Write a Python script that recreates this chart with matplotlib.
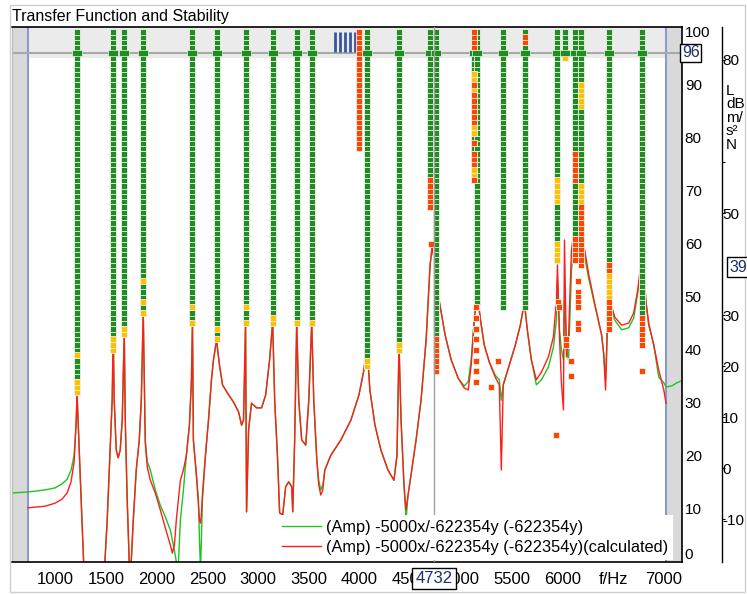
import numpy as np
import matplotlib.pyplot as plt
from matplotlib.lines import Line2D
from matplotlib.patches import Rectangle
import matplotlib.transforms as mtrans

plt.rcParams['font.family'] = ['Liberation Sans', 'DejaVu Sans']
plt.rcParams['font.size'] = 11

nan = np.nan

# transfer function: measured (green) and synthesised (red), dB
freq_hz = [575, 733, 901, 1000, 1069, 1119, 1158, 1188, 1207, 1217, 1227, 1247, 1267, 1287, 1395,
           1484, 1514, 1543, 1563, 1573, 1583, 1603, 1622, 1642, 1662, 1682, 1692, 1711, 1731, 1741,
           1751, 1771, 1800, 1830, 1850, 1869, 1889, 1909, 1939, 1988, 2037, 2087, 2136, 2156, 2176,
           2195, 2215, 2235, 2265, 2294, 2324, 2344, 2354, 2363, 2393, 2413, 2423, 2433, 2442, 2452,
           2482, 2512, 2541, 2561, 2591, 2620, 2650, 2699, 2759, 2808, 2838, 2857, 2877, 2887, 2907,
           2936, 2986, 3035, 3075, 3114, 3144, 3164, 3193, 3213, 3243, 3272, 3302, 3332, 3342, 3361,
           3381, 3401, 3430, 3470, 3500, 3529, 3549, 3579, 3598, 3618, 3638, 3658, 3717, 3816, 3915,
           3994, 4043, 4073, 4102, 4152, 4211, 4280, 4339, 4369, 4389, 4409, 4438, 4458, 4478, 4507,
           4557, 4606, 4656, 4695, 4715, 4745, 4784, 4843, 4903, 4972, 5031, 5071, 5100, 5130, 5159,
           5189, 5229, 5278, 5337, 5377, 5397, 5416, 5476, 5535, 5584, 5624, 5653, 5693, 5742, 5792,
           5861, 5910, 5940, 5950, 5970, 5989, 6009, 6019, 6029, 6039, 6059, 6088, 6118, 6157, 6177,
           6207, 6256, 6315, 6385, 6405, 6424, 6454, 6474, 6514, 6583, 6652, 6701, 6741, 6780, 6800,
           6820, 6849, 6899, 6948, 6998, 7020, 7077, 7126, 7195]
meas_db = [-4.9, -4.7, -4.3, -3.9, -3.1, -2.2, -0.4, 2.5, 8.4, 14.3, 9.4, -1.0, -11.2, -21, -24,
           -21, -10.2, 3.5, 13.3, 26.1, 13.3, 3.5, 2.0, 3.5, 9.4, 26.5, 9.4, -6.3, -18.4, -19.0,
           -18.0, -10.2, -0.4, 5.5, 13.3, 30.6, 5.5, 1.2, -0.4, -4.3, -7.3, -9.6, -12.2, -14.1, -16.1,
           -18.4, -19.0, -10.2, -4.3, 2.5, 8.4, 17.3, 28.6, 5.5, -1.4, -6.3, -14.1, -20.0, -14.1, -6.3,
           2.5, 9.4, 17.3, 21.2, 25.1, 20.2, 16.3, 14.7, 12.9, 11.0, 8.4, 9.4, 28.4, -8.6, 7.5,
           12.7, 11.8, 11.8, 14.3, 21.2, 28.6, 13.3, 1.6, -8.8, -9.2, -3.7, -2.7, -3.7, -8.6, 5.5,
           28.6, 13.3, 5.5, 4.5, 13.3, 28.6, 13.3, 1.6, -2.4, -4.3, -3.3, -0.4, 2.5, 5.5, 9.4,
           14.3, 19.2, 24.1, 15.3, 8.4, 3.5, -0.4, -2.4, 2.5, 24.1, 9.4, -3.3, -10.2, -5.3, -1.4,
           5.5, 13.3, 25.1, 39.8, 43.3, 39.8, 32.9, 26.1, 21.2, 17.6, 16.1, 16.9, 21.2, 29.0, 34.5,
           29.4, 24.1, 20.8, 18.2, 17.3, 13.3, 16.3, 20.2, 24.1, 28.0, 32.5, 27.1, 21.2, 16.3, 17.3,
           19.8, 23.7, 29.0, 36.9, 27.1, 23.1, 21.2, 32.9, 29.0, 23.1, 21.2, 38.8, 44.7, 47.1, 47.1,
           42.7, 37.3, 32.2, 26.1, 22.5, 17.3, 35.3, 32.0, 29.0, 27.1, 27.5, 29.4, 34.3, 40.8, 39.8,
           32.9, 28.0, 24.1, 17.8, 16.7, 15.9, 16.1, 16.7, 17.3]
calc_db = [nan, -7.8, -7.5, -6.9, -6.1, -4.9, -2.7, 1.2, 8.4, 14.7, 9.4, -1.0, -11.2, -21, -24,
           -21, -10.2, 3.5, 13.3, 26.1, 13.3, 3.5, 2.0, 3.5, 9.4, 26.5, 9.4, -6.3, -18.4, -21,
           -18.4, -10.2, -0.4, 5.5, 13.3, 30.6, 4.9, 0.2, -2.4, -4.9, -8.2, -11.8, -15.1, -16.7, -15.1,
           -10.2, -6.3, -2.4, -0.4, 2.5, 8.4, 17.3, 28.6, 5.5, -1.4, -7.3, -10.2, -10.8, -9.2, -5.3,
           2.5, 9.4, 17.3, 21.2, 25.1, 20.2, 16.3, 14.7, 12.9, 11.0, 8.4, 9.4, 28.4, -8.6, 7.5,
           12.7, 11.8, 11.8, 14.3, 21.2, 28.6, 13.3, 1.6, -8.8, -9.2, -3.7, -2.7, -3.7, -8.6, 5.5,
           28.6, 13.3, 5.5, 4.5, 13.3, 28.6, 13.3, 1.6, -3.3, -5.3, -4.3, -0.4, 2.5, 5.5, 9.4,
           14.3, 19.2, 24.1, 15.3, 8.4, 3.5, -0.4, -2.4, 2.5, 24.1, 9.4, -3.3, -8.2, -5.3, -1.4,
           5.5, 13.3, 25.1, 39.8, 43.3, 39.8, 32.9, 26.1, 21.2, 17.6, 15.7, 15.3, 20.2, 29.0, 34.5,
           29.4, 24.1, 20.8, 17.8, 16.3, -0.4, 16.3, 20.2, 24.1, 28.0, 32.5, 27.1, 21.2, 17.3, 18.8,
           21.8, 25.7, 32.9, 39.8, 25.7, 16.7, 11.4, 44.7, 32.9, 21.8, 25.7, 42.7, 47.3, 49.0, 48.6,
           44.1, 38.2, 32.4, 26.1, 22.5, 15.3, 35.5, 32.4, 29.6, 28.0, 28.4, 30.4, 34.9, 41.4, 40.4,
           32.9, 28.4, 24.1, 19.2, 15.3, 12.7, nan, nan, nan]

# stability diagram: pole columns (frequency, lowest model order) and non-stable orders
pole_hz = [1217, 1573, 1682, 1869, 2354, 2591, 2877, 3144, 3381, 3529, 3994, 4073, 4389, 4695,
           4755, 5130, 5159, 5416, 5633, 5950, 6029, 6118, 6177, 6454, 6780]
pole_first = [32, 40, 43, 47, 45, 42, 45, 45, 45, 45, 78, 37, 40, 67,
              36, 72, 49, 48, 48, 57, 95, 57, 56, 44, 41]
pole_yellow = [[32, 33, 34, 39], [40, 41, 42], [43, 44], [47, 49, 53], [45, 48], [42, 44], [45, 48],
               [45, 46], [45], [45], [], [37, 38], [40, 41], [],
               [], [73, 74, 81, 82, 89, 91, 92], [], [], [], [57, 58, 59, 60, 68, 69, 70, 71, 72], [95], [],
               [68, 69, 70, 71, 86, 87, 88, 89, 90], [50, 51, 52, 53, 54], []]
pole_red = [[], [], [], [], [], [], [], [], [], [], list(range(78, 101)), [], [], [67, 68, 69, 70, 71, 72],
            [36, 37, 38, 39, 40, 41, 42], [72, 75, 76, 77, 79, 83, 84, 85, 86, 87, 88, 90, 97, 98, 99, 100],
            [], [], [98, 99], [], [], [57, 58, 59, 60, 61, 72, 73, 74, 75, 76, 77],
            [56, 57, 58, 59, 60, 61, 62, 63, 64, 65, 66, 67], [44, 45, 46, 47, 48, 49, 55, 56], [41, 42, 43, 44, 45, 46]]

# loose unstable poles
loose_hz = [4705, 5150, 5150, 5150, 5150, 5150, 5150, 5150, 5150, 5298, 5367, 5960, 5965, 5940,
            6039, 6039, 6080, 6080, 6150, 6157, 6157, 6157, 6157, 6157, 6157, 6780]
loose_order = [60, 48, 46, 44, 42, 40, 38, 36, 34, 33, 38, 49, 48, 24,
               41, 42, 38, 35, 53, 51, 50, 49, 48, 45, 44, 36]

band_hz = [3757, 3806, 3855, 3905, 3954]
sel_order = 96
f_lo, f_hi = 733, 7020
cursor_hz, cursor_db = 4732, 39.4

W, H = 747, 594
fig = plt.figure(figsize=(W / 100, H / 100), dpi=100)
def fx(px):
    return px / W
def fy(py):
    return 1 - py / H

fig.patches.append(Rectangle((fx(10), fy(592)), fx(745) - fx(10), fy(5) - fy(592),
                             transform=fig.transFigure, fill=False, edgecolor='#cfcfcf', lw=1))
fig.text(fx(12), fy(16), 'Transfer Function and Stability', va='center', ha='left', fontsize=11.5)

ax = fig.add_axes([fx(12), fy(562), fx(682) - fx(12), fy(27) - fy(562)])
ax.set_xlim(576, 7177)
ax.set_ylim(0, 100.9)
db = ax.twinx()
db.set_ylim(-18.43, 86.47)

# backgrounds
ax.axhspan(95.1, 101, color='#ebebeb', lw=0, zorder=0)
ax.axvspan(576, f_lo, color='#d9d9d9', lw=0, zorder=0.1)
ax.axvspan(f_hi, 7177, color='#d9d9d9', lw=0, zorder=0.1)
ax.axvline(f_lo, color='#8a9ad0', lw=1.5, zorder=0.2)
ax.axvline(f_hi, color='#8a9ad0', lw=1.5, zorder=0.2)
ax.axhline(sel_order, color='#a8a8a8', lw=1.5, zorder=0.3)
ax.vlines(band_hz, 96.2, 100, color='#3a55a0', lw=2, zorder=0.4)

# curves
ax.plot(freq_hz, meas_db, color='#1fc41f', lw=1.0, transform=db.transData, zorder=2)
ax.plot(freq_hz, calc_db, color='#ff1e1e', lw=1.0, transform=db.transData, zorder=2.1)

# stability markers
pts = {'g': ([], []), 'y': ([], []), 'r': ([], [])}
big = []
for f, first, ys, rs in zip(pole_hz, pole_first, pole_yellow, pole_red):
    for o in range(first, 101):
        if o in rs:
            k = 'r'
        elif o in ys:
            k = 'y'
        elif o == sel_order:
            big.append(f)
            continue
        else:
            k = 'g'
        pts[k][0].append(f)
        pts[k][1].append(o)
pts['r'][0].extend(loose_hz)
pts['r'][1].extend(loose_order)
cols = {'g': '#228b22', 'y': '#ffc000', 'r': '#ff4500'}
for k in 'gyr':
    ax.scatter(pts[k][0], pts[k][1], marker='s', s=14.5, c=cols[k], edgecolors='#eef3ee',
               linewidths=0.6, zorder=3)
wide = [(-1, -0.65), (1, -0.65), (1, 0.65), (-1, 0.65), (-1, -0.65)]
ax.scatter(big, [sel_order] * len(big), marker=wide, s=60, c=cols['g'], edgecolors='#eef3ee',
           linewidths=0.5, zorder=3.1)

# cursor
ax.axvline(cursor_hz, color='#a0a0a0', lw=1, zorder=3.5)

# legend
handles = [Line2D([], [], color='#1fc41f', lw=1), Line2D([], [], color='#ff1e1e', lw=1)]
labels = ['(Amp) -5000x/-622354y (-622354y)', '(Amp) -5000x/-622354y (-622354y)(calculated)']
leg = ax.legend(handles, labels, loc='lower right', bbox_to_anchor=(0.986, 0.004), frameon=True,
                fancybox=False, edgecolor='none', facecolor='white', framealpha=1, borderaxespad=0,
                handlelength=2.4, handletextpad=0.25, borderpad=0.3, labelspacing=0.3, fontsize=11.8)
leg.set_zorder(5)

# axes
xt = [1000, 1500, 2000, 2500, 3000, 3500, 4000, 4500, 5000, 5500, 6000, 6500, 7000]
ax.set_xticks(xt)
ax.set_xticklabels([str(v) for v in xt[:-2]] + ['f/Hz', '7000'])
ax.tick_params(axis='x', length=0, pad=7, labelsize=12)
ax.yaxis.tick_right()
ax.set_yticks(range(0, 101, 10))
ax.tick_params(axis='y', length=0, pad=2, labelsize=11)
ax.yaxis.get_major_ticks()[0].label2.set_va('bottom')
for s in ['top', 'bottom', 'right']:
    ax.spines[s].set_color('black')
    ax.spines[s].set_linewidth(1.2)
ax.spines['left'].set_color('#b8b8b8')

for s in ['top', 'bottom', 'left']:
    db.spines[s].set_visible(False)
db.spines['right'].set_position(('outward', 28.8))
db.spines['right'].set_linewidth(1)
db_ticks = [-10, 0, 10, 20, 30, 50, 60, 80]
db.set_yticks(db_ticks)
db.set_yticklabels(['-10', '0', '10', '20', '30', '50', '', '80'])
db.tick_params(axis='y', length=2.5, pad=-2.5, labelsize=11)
fig.text(fx(726), fy(84), 'L\ndB\nm/\ns²\nN', va='top', ha='left', fontsize=11, linespacing=0.95)

# value boxes
xtrans = mtrans.blended_transform_factory(ax.transData, ax.transAxes)
ax.text(cursor_hz, -0.031, '4732', transform=xtrans, ha='center', va='center', color='#1c2f6b',
        fontsize=12, bbox=dict(boxstyle='square,pad=0.2', fc='white', ec='black', lw=1),
        zorder=10, clip_on=False)
ax.text(1.0, sel_order, '96', transform=mtrans.blended_transform_factory(ax.transAxes, ax.transData),
        ha='left', va='center', color='#1c2f6b', fontsize=11.5,
        bbox=dict(boxstyle='square,pad=0.1', fc='white', ec='black', lw=1), zorder=10, clip_on=False)
fig.text(fx(729), db.transData.transform((0, cursor_db))[1] / H, '39,4', ha='left', va='center',
         color='#1c2f6b', fontsize=11.5, bbox=dict(boxstyle='square,pad=0.15', fc='white', ec='black', lw=1))

fig.savefig('out.png', dpi=100, facecolor='white')
